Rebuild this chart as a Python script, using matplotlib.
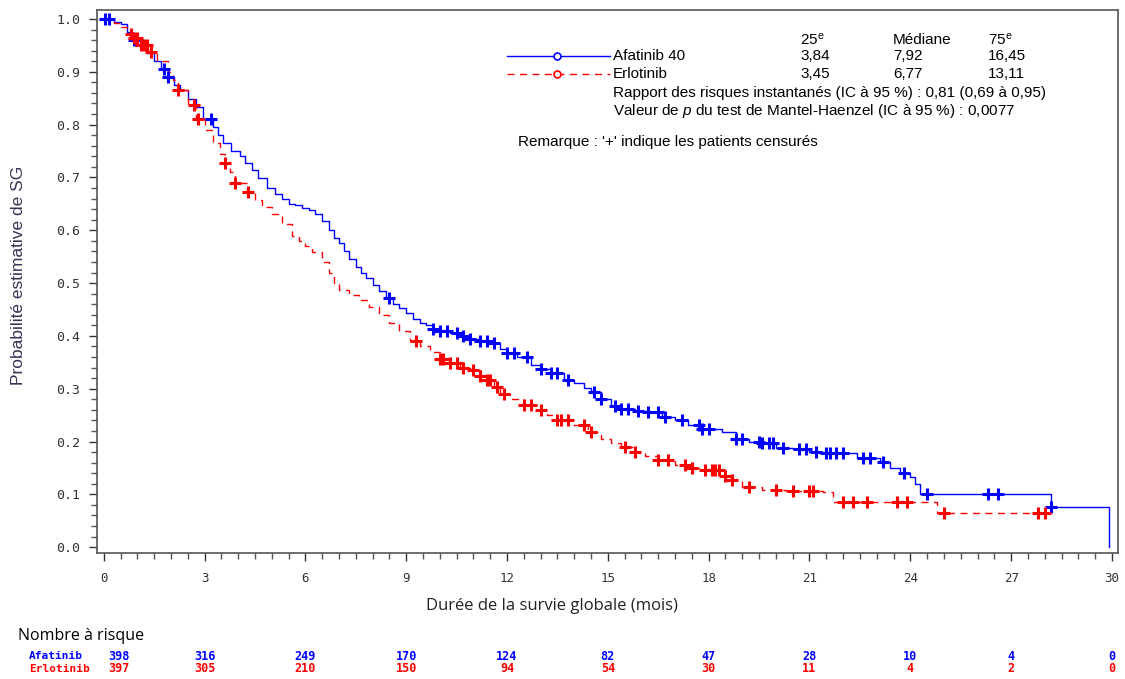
import numpy as np
import matplotlib
matplotlib.use("Agg")
import matplotlib.pyplot as plt
import matplotlib.transforms as mtransforms

plt.rcParams['font.family'] = ['Liberation Sans', 'DejaVu Sans']
plt.rcParams['mathtext.fontset'] = 'custom'
plt.rcParams['mathtext.rm'] = 'Liberation Sans'
plt.rcParams['mathtext.it'] = 'Liberation Sans:italic'

# ---------------- data ----------------
afa_t = [0, 0.3, 0.5, 0.7, 0.87, 1.1, 1.3, 1.5, 1.7, 1.9, 2.1, 2.26, 2.5, 2.76, 2.95,
         3.24, 3.4, 3.55, 3.8, 4.05, 4.2, 4.4, 4.6, 4.85, 5.1, 5.3, 5.5, 5.7, 5.9, 6.1,
         6.3, 6.5, 6.7, 6.85, 7.0, 7.15, 7.3, 7.5, 7.65, 7.8, 8.0, 8.2, 8.4, 8.6, 8.8,
         9.0, 9.2, 9.4, 9.6, 9.8, 10.0, 10.3, 10.6, 10.9, 11.2, 11.5, 11.8, 12.0, 12.3,
         12.7, 13.0, 13.3, 13.7, 14.0, 14.3, 14.5, 14.8, 15.1, 15.4, 15.8, 16.2, 16.6,
         17.0, 17.4, 17.8, 18.4, 18.8, 19.2, 19.6, 20.0, 20.5, 21.0, 21.5, 22.4, 23.1,
         23.4, 23.7, 24.0, 24.15, 24.3, 28.2, 29.9]
afa_s = [1.0, 0.995, 0.99, 0.975, 0.96, 0.95, 0.935, 0.92, 0.905, 0.89, 0.875, 0.865,
         0.848, 0.833, 0.81, 0.795, 0.78, 0.765, 0.75, 0.74, 0.727, 0.714, 0.698, 0.68,
         0.668, 0.66, 0.65, 0.648, 0.643, 0.638, 0.63, 0.618, 0.60, 0.585, 0.575, 0.56,
         0.545, 0.53, 0.52, 0.51, 0.497, 0.485, 0.472, 0.46, 0.452, 0.443, 0.432, 0.424,
         0.42, 0.413, 0.41, 0.405, 0.40, 0.395, 0.39, 0.386, 0.375, 0.367, 0.36, 0.345,
         0.338, 0.33, 0.316, 0.31, 0.302, 0.294, 0.28, 0.268, 0.262, 0.258, 0.255,
         0.247, 0.24, 0.232, 0.224, 0.218, 0.205, 0.20, 0.197, 0.188, 0.185, 0.18,
         0.178, 0.169, 0.161, 0.15, 0.14, 0.133, 0.12, 0.10, 0.076, 0.0]

erl_t = [0, 0.3, 0.5, 0.7, 0.87, 1.1, 1.37, 1.6, 1.9, 2.05, 2.2, 2.5, 2.76, 3.0, 3.24,
         3.45, 3.6, 3.75, 3.9, 4.25, 4.5, 4.7, 5.0, 5.3, 5.6, 5.8, 6.0, 6.2, 6.5, 6.7,
         6.85, 7.0, 7.3, 7.6, 7.9, 8.2, 8.5, 8.8, 9.1, 9.4, 9.7, 10.0, 10.3, 10.6, 10.9,
         11.2, 11.4, 11.6, 11.8, 12.1, 12.5, 12.9, 13.2, 13.5, 13.9, 14.4, 14.8, 15.1,
         15.4, 15.8, 16.1, 16.5, 17.0, 17.5, 17.8, 18.4, 18.7, 19.0, 19.6, 20.3, 21.4,
         21.7, 24.8, 28.07]
erl_s = [1.0, 0.993, 0.985, 0.972, 0.964, 0.95, 0.937, 0.92, 0.90, 0.885, 0.866, 0.838,
         0.81, 0.79, 0.765, 0.745, 0.727, 0.71, 0.69, 0.672, 0.658, 0.644, 0.63, 0.612,
         0.59, 0.58, 0.57, 0.558, 0.54, 0.52, 0.50, 0.487, 0.478, 0.468, 0.455, 0.44,
         0.425, 0.41, 0.39, 0.38, 0.37, 0.357, 0.348, 0.34, 0.335, 0.325, 0.316, 0.303,
         0.29, 0.28, 0.269, 0.26, 0.25, 0.24, 0.232, 0.218, 0.205, 0.198, 0.19, 0.18,
         0.172, 0.165, 0.155, 0.15, 0.146, 0.135, 0.127, 0.114, 0.108, 0.106, 0.104,
         0.085, 0.064, 0.064]

afa_cens = [0.05, 0.15, 0.9, 1.0, 1.8, 1.9, 3.2, 8.5, 9.8, 10.0, 10.2, 10.5, 10.7, 10.9,
            11.2, 11.4, 11.6, 12.0, 12.2, 12.6, 13.0, 13.3, 13.5, 13.8, 14.6, 14.8,
            15.2, 15.4, 15.6, 15.9, 16.2, 16.5, 16.7, 17.2, 17.7, 17.8, 18.0, 18.8,
            19.0, 19.5, 19.6, 19.8, 19.9, 20.2, 20.7, 20.9, 21.2, 21.5, 21.6, 21.8,
            22.0, 22.6, 22.8, 23.2, 23.8, 24.5, 26.3, 26.6, 28.2]
erl_cens = [0.8, 0.9, 1.0, 1.1, 1.2, 1.3, 1.4, 2.2, 2.7, 2.8, 3.6, 3.9, 4.3, 9.3, 10.0,
            10.1, 10.3, 10.5, 10.7, 11.0, 11.2, 11.4, 11.5, 11.7, 11.9, 12.5, 12.7,
            13.0, 13.5, 13.6, 13.8, 14.3, 14.5, 15.5, 15.8, 16.5, 16.8, 17.3, 17.5,
            17.9, 18.1, 18.2, 18.3, 18.5, 18.7, 19.2, 20.0, 20.5, 21.0, 21.1, 22.0,
            22.3, 22.7, 23.6, 23.9, 25.0, 27.8, 28.0]

risk_times = [0, 3, 6, 9, 12, 15, 18, 21, 24, 27, 30]
afa_risk = [398, 316, 249, 170, 124, 82, 47, 28, 10, 4, 0]
erl_risk = [397, 305, 210, 150, 94, 54, 30, 11, 4, 2, 0]

x_ticks = [0, 3, 6, 9, 12, 15, 18, 21, 24, 27, 30]
y_ticks = [0.0, 0.1, 0.2, 0.3, 0.4, 0.5, 0.6, 0.7, 0.8, 0.9, 1.0]

stats_header = ["25$^{\\mathrm{e}}$", "Médiane", "75$^{\\mathrm{e}}$"]
afa_stats = ["3,84", "7,92", "16,45"]
erl_stats = ["3,45", "6,77", "13,11"]

BLUE = (0, 0, 1)
RED = (1, 0, 0)

W, H = 1125, 679
fig = plt.figure(figsize=(W / 100, H / 100), dpi=100)


def fx(px):
    return px / W


def fy(py):
    return 1 - py / H


ax = fig.add_axes([fx(97), fy(553), fx(1118) - fx(97), fy(10) - fy(553)])
ax.set_xlim(-0.2, 30.18)
ax.set_ylim(-0.011, 1.017)


def step_val(t, s, tc):
    t = np.asarray(t)
    s = np.asarray(s)
    idx = np.searchsorted(t, tc, side='right') - 1
    return s[np.clip(idx, 0, len(s) - 1)]


ax.step(afa_t, afa_s, where='post', color=BLUE, lw=1.0)
ax.step(erl_t, erl_s, where='post', color=RED, lw=1.0, linestyle=(0, (5, 4)))

ac = np.asarray(afa_cens)
ec = np.asarray(erl_cens)
ax.plot(ac, step_val(afa_t, afa_s, ac), '+', color=BLUE, ms=8, mew=2.2, ls='none')
ax.plot(ec, step_val(erl_t, erl_s, ec), '+', color=RED, ms=8, mew=2.2, ls='none')

# axes styling
for sp in ax.spines.values():
    sp.set_color('#555555')
    sp.set_linewidth(1.2)
ax.set_xticks(x_ticks)
ax.set_xticks(np.arange(0, 30.01, 0.5), minor=True)
ax.set_yticks(y_ticks)
ax.set_yticks(np.arange(0, 1.001, 0.02), minor=True)
ax.set_xticklabels([str(v) for v in x_ticks], family='DejaVu Sans Mono', fontsize=9,
                   color='#333333')
ax.set_yticklabels([f"{v:.1f}" for v in y_ticks],
                   family='DejaVu Sans Mono', fontsize=9.5, color='#333333')
ax.tick_params(axis='both', which='major', length=6, width=1, color='#333333')
ax.tick_params(axis='x', which='major', pad=8)
ax.tick_params(axis='y', which='major', pad=6)
ax.tick_params(axis='both', which='minor', length=4, width=1, color='#555555')

fig.text(fx(552), fy(606), "Durée de la survie globale (mois)", fontsize=12,
         color='#222222', ha='center', va='center', family='Open Sans')
fig.text(fx(19), fy(275), "Probabilité estimative de SG", rotation=90, fontsize=12.5,
         color='#333355', ha='center', va='center')

# legend / stats block
fs = 11
fig.text(fx(800), fy(40), stats_header[0], fontsize=fs, ha='left', va='center')
fig.text(fx(893), fy(40), stats_header[1], fontsize=fs, ha='left', va='center')
fig.text(fx(988), fy(40), stats_header[2], fontsize=fs, ha='left', va='center')

fig.add_artist(plt.Line2D([fx(507), fx(610)], [fy(56), fy(56)], color=BLUE, lw=1.0))
fig.add_artist(plt.Line2D([fx(557)], [fy(56)], color=BLUE, marker='o', ms=5,
                          mfc='white', mew=1.2))
fig.add_artist(plt.Line2D([fx(507), fx(610)], [fy(74), fy(74)], color=RED, lw=1.0,
                          linestyle=(0, (5, 4))))
fig.add_artist(plt.Line2D([fx(557)], [fy(74)], color=RED, marker='o', ms=5,
                          mfc='white', mew=1.2))

fig.text(fx(613), fy(56), "Afatinib 40", fontsize=fs, ha='left', va='center')
fig.text(fx(613), fy(74), "Erlotinib", fontsize=fs, ha='left', va='center')
for xp, v in zip([800, 893, 988], afa_stats):
    fig.text(fx(xp), fy(56), v, fontsize=fs, ha='left', va='center')
for xp, v in zip([800, 893, 988], erl_stats):
    fig.text(fx(xp), fy(74), v, fontsize=fs, ha='left', va='center')
fig.text(fx(613), fy(93), "Rapport des risques instantanés (IC à 95 %) : 0,81 (0,69 à 0,95)",
         fontsize=fs, ha='left', va='center')
fig.text(fx(613), fy(111), "Valeur de $p$ du test de Mantel-Haenzel (IC à 95 %) : 0,0077",
         fontsize=fs, ha='left', va='center')
fig.text(fx(518), fy(142), "Remarque : '+' indique les patients censurés",
         fontsize=fs, ha='left', va='center')

# number at risk
fig.text(fx(18), fy(636), "Nombre à risque", fontsize=11.5, ha='left', va='center',
         family='Open Sans')
trans = mtransforms.blended_transform_factory(ax.transData, fig.transFigure)
fig.text(fx(29), fy(656), "Afatinib", fontsize=8, ha='left', va='center',
         color=BLUE, family='DejaVu Sans Mono', fontweight='bold')
fig.text(fx(29), fy(669), "Erlotinib", fontsize=8, ha='left', va='center',
         color=RED, family='DejaVu Sans Mono', fontweight='bold')
for i, (tm, a, e) in enumerate(zip(risk_times, afa_risk, erl_risk)):
    off = 0.45 if i == 0 else 0
    fig.text(tm + off, fy(656), str(a), transform=trans, fontsize=8.5, ha='center',
             va='center', color=BLUE, family='DejaVu Sans Mono', fontweight='bold')
    fig.text(tm + off, fy(669), str(e), transform=trans, fontsize=8.5, ha='center',
             va='center', color=RED, family='DejaVu Sans Mono', fontweight='bold')

fig.savefig("out.png", dpi=100)
